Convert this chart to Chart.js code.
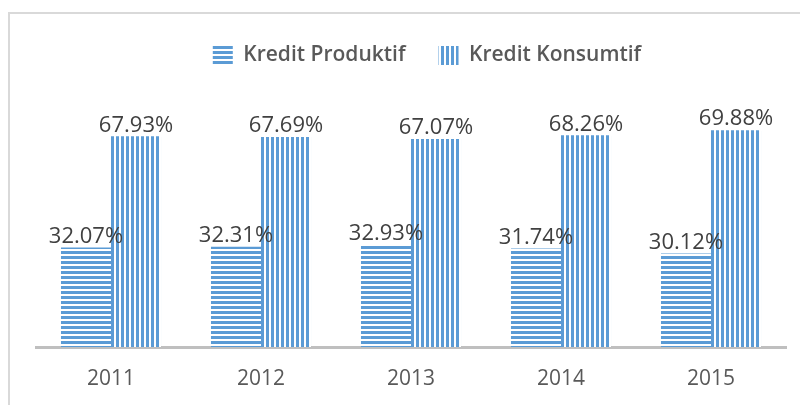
<!DOCTYPE html>
<html>
<head>
<meta charset="utf-8">
<script src="https://cdn.jsdelivr.net/npm/chart.js@4.4.1/dist/chart.umd.min.js"></script>
<style>
html,body{margin:0;padding:0;background:#fff;}
#wrap{position:relative;width:800px;height:405px;}
</style>
</head>
<body>
<div id="wrap"><canvas id="c" width="800" height="405"></canvas></div>
<script>
const categories = ["2011", "2012", "2013", "2014", "2015"];
const seriesNames = ["Kredit Produktif", "Kredit Konsumtif"];
const produktif = [32.07, 32.31, 32.93, 31.74, 30.12];
const konsumtif = [67.93, 67.69, 67.07, 68.26, 69.88];

const BLUE = "#5b9bd5";
function stripePattern(horizontal) {
  const c = document.createElement("canvas");
  c.width = 5; c.height = 5;
  const g = c.getContext("2d");
  g.fillStyle = "#ffffff";
  g.fillRect(0, 0, 5, 5);
  g.fillStyle = BLUE;
  if (horizontal) g.fillRect(0, 1, 5, 3);
  else g.fillRect(1, 0, 3, 5);
  return document.getElementById("c").getContext("2d").createPattern(c, "repeat");
}
const hPat = stripePattern(true);
const vPat = stripePattern(false);

const frame = {
  id: "frame",
  beforeDraw(chart) {
    const ctx = chart.ctx;
    ctx.save();
    ctx.strokeStyle = "#d9d9d9";
    ctx.lineWidth = 2;
    ctx.beginPath();
    ctx.moveTo(9, 405);
    ctx.lineTo(9, 13);
    ctx.lineTo(800, 13);
    ctx.stroke();
    ctx.restore();
  }
};

const legendShift = {
  id: "legendShift",
  afterLayout(chart) {
    const lg = chart.legend;
    if (!lg) return;
    lg.left += 16; lg.right += 16;
    lg.top += 2; lg.bottom += 2;
  }
};

const valueLabels = {
  id: "valueLabels",
  afterDatasetsDraw(chart) {
    const ctx = chart.ctx;
    ctx.save();
    ctx.font = "500 22px 'Open Sans'";
    ctx.fillStyle = "#404040";
    ctx.textAlign = "center";
    ctx.textBaseline = "bottom";
    chart.data.datasets.forEach((ds, i) => {
      chart.getDatasetMeta(i).data.forEach((bar, j) => {
        ctx.fillText(ds.data[j].toFixed(2) + "%", bar.x, bar.y);
      });
    });
    ctx.restore();
  }
};

new Chart(document.getElementById("c"), {
  type: "bar",
  data: {
    labels: categories,
    datasets: [
      { label: seriesNames[0], data: produktif, backgroundColor: hPat, borderWidth: 0 },
      { label: seriesNames[1], data: konsumtif, backgroundColor: vPat, borderWidth: 0 }
    ]
  },
  options: {
    responsive: false,
    animation: false,
    events: [],
    layout: { padding: { left: 36, right: 14, top: 10, bottom: 14 } },
    datasets: { bar: { categoryPercentage: 0.667, barPercentage: 1 } },
    plugins: {
      tooltip: { enabled: false },
      legend: {
        position: "top",
        labels: {
          boxWidth: 20,
          boxHeight: 19,
          padding: 33,
          color: "#595959",
          font: { family: "'Open Sans'", size: 21, weight: "600" }
        }
      }
    },
    scales: {
      x: {
        grid: { display: false, drawTicks: false },
        border: { display: true, color: "#bfbfbf", width: 3 },
        ticks: { color: "#595959", font: { family: "'Open Sans'", size: 21, weight: "500" }, padding: 19 },
        afterFit(scale) { scale.height = 44; }
      },
      y: {
        display: false,
        min: 0,
        max: 88
      }
    }
  },
  plugins: [frame, legendShift, valueLabels]
});
</script>
</body>
</html>
